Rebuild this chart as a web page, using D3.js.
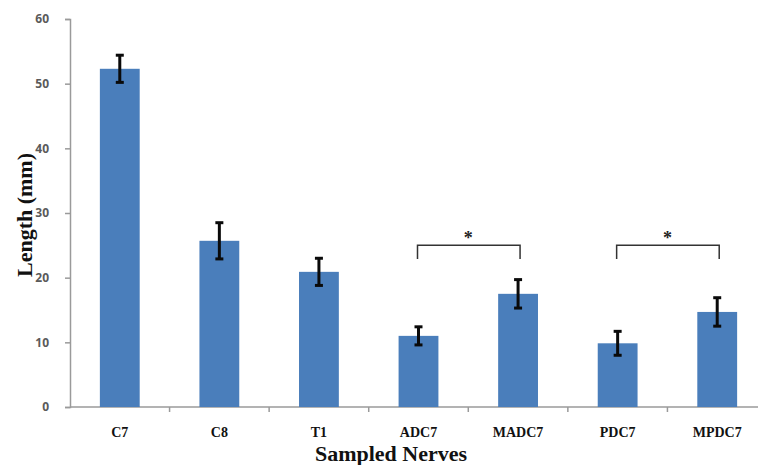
<!DOCTYPE html>
<html>
<head>
<meta charset="utf-8">
<script src="https://cdn.jsdelivr.net/npm/d3@7"></script>
<style>
  body { margin: 0; background: #fff; }
  svg { display: block; }
</style>
</head>
<body>
<div id="chart"></div>
<script>
// chart size, same as the window
const width = 758;
const height = 465;
const margin = {left: 70, right: -9, top: 19, bottom: 58};

// data
const nerves = ["C7", "C8", "T1", "ADC7", "MADC7", "PDC7", "MPDC7"];
const lengths = [52.3, 25.7, 20.9, 11.0, 17.5, 9.85, 14.7];
const errors = [2.1, 2.8, 2.1, 1.4, 2.2, 1.85, 2.2];
const yTicks = [0, 10, 20, 30, 40, 50, 60];

// significance brackets: [from, to, bar height, leg end]
const brackets = [
  {from: "ADC7", to: "MADC7", top: 25.0, end: 22.9},
  {from: "PDC7", to: "MPDC7", top: 25.0, end: 22.9}
];

const svg = d3.select("#chart")
  .append("svg")
  .attr("width", width)
  .attr("height", height);

let yScale = d3.scaleLinear()
  .domain([0, 60])
  .range([height - margin.bottom, margin.top]);

let xScale = d3.scaleBand()
  .domain(nerves)
  .range([margin.left, width - margin.right])
  .paddingInner(0.6)
  .paddingOuter(0.3);

// axes
const yAxis = svg.append("g")
  .attr("transform", `translate(${margin.left},0)`)
  .call(d3.axisLeft(yScale).tickValues(yTicks).tickSize(5).tickPadding(16));
yAxis.selectAll("path, line").attr("stroke", "#9a9a9a").attr("stroke-width", 1.5);
yAxis.selectAll("text")
  .attr("fill", "#5a5a5a")
  .attr("font-family", "'Open Sans', sans-serif")
  .attr("font-size", "12px")
  .attr("font-weight", "bold");

// x axis: ticks sit between categories
const step = xScale.step();
const xAxis = svg.append("g")
  .attr("transform", `translate(0,${yScale(0)})`);
xAxis.append("line")
  .attr("x1", margin.left).attr("x2", width)
  .attr("stroke", "#9a9a9a").attr("stroke-width", 1.5);
xAxis.selectAll(".sep")
  .data(nerves.slice(1))
  .enter()
  .append("line")
  .attr("class", "sep")
  .attr("x1", d => xScale(d) - step * 0.3)
  .attr("x2", d => xScale(d) - step * 0.3)
  .attr("y1", 0).attr("y2", 5)
  .attr("stroke", "#9a9a9a").attr("stroke-width", 1.5);

xAxis.selectAll(".cat")
  .data(nerves)
  .enter()
  .append("text")
  .attr("class", "cat")
  .attr("x", d => xScale(d) + xScale.bandwidth() / 2)
  .attr("y", 30)
  .attr("text-anchor", "middle")
  .attr("font-family", "'Liberation Serif', 'Times New Roman', serif")
  .attr("font-weight", "bold")
  .attr("font-size", "14px")
  .attr("fill", "#111")
  .text(d => d);

// bars
svg.selectAll(".bar")
  .data(nerves)
  .enter()
  .append("rect")
  .attr("class", "bar")
  .attr("x", d => xScale(d))
  .attr("y", (d, i) => yScale(lengths[i]))
  .attr("width", xScale.bandwidth())
  .attr("height", (d, i) => yScale(0) - yScale(lengths[i]))
  .attr("fill", "#4a7ebb");

// error bars
const err = svg.selectAll(".err")
  .data(nerves)
  .enter()
  .append("g")
  .attr("class", "err")
  .attr("stroke", "#0a0a0a")
  .attr("stroke-width", 3);
err.append("line")
  .attr("x1", d => xScale(d) + xScale.bandwidth() / 2)
  .attr("x2", d => xScale(d) + xScale.bandwidth() / 2)
  .attr("y1", (d, i) => yScale(lengths[i] + errors[i]))
  .attr("y2", (d, i) => yScale(lengths[i] - errors[i]));
err.append("line")
  .attr("x1", d => xScale(d) + xScale.bandwidth() / 2 - 4)
  .attr("x2", d => xScale(d) + xScale.bandwidth() / 2 + 4)
  .attr("y1", (d, i) => yScale(lengths[i] + errors[i]))
  .attr("y2", (d, i) => yScale(lengths[i] + errors[i]));
err.append("line")
  .attr("x1", d => xScale(d) + xScale.bandwidth() / 2 - 4)
  .attr("x2", d => xScale(d) + xScale.bandwidth() / 2 + 4)
  .attr("y1", (d, i) => yScale(lengths[i] - errors[i]))
  .attr("y2", (d, i) => yScale(lengths[i] - errors[i]));

// significance brackets
const mid = d => xScale(d) + xScale.bandwidth() / 2;
svg.selectAll(".bracket")
  .data(brackets)
  .enter()
  .append("path")
  .attr("class", "bracket")
  .attr("fill", "none")
  .attr("stroke", "#333")
  .attr("stroke-width", 1.5)
  .attr("d", b => `M${mid(b.from) - 1},${yScale(b.end)}V${yScale(b.top)}H${mid(b.to) + 2}V${yScale(b.end)}`);
svg.selectAll(".star")
  .data(brackets)
  .enter()
  .append("text")
  .attr("class", "star")
  .attr("x", b => (mid(b.from) + mid(b.to)) / 2)
  .attr("y", b => yScale(b.top) - 1)
  .attr("text-anchor", "middle")
  .attr("font-family", "'Liberation Serif', serif")
  .attr("font-weight", "bold")
  .attr("font-size", "18px")
  .attr("fill", "#222")
  .text("*");

// axis titles
svg.append("text")
  .attr("transform", `translate(32,${(yScale(0) + yScale(60)) / 2 + 2}) rotate(-90)`)
  .attr("text-anchor", "middle")
  .attr("font-family", "'Liberation Serif', 'Times New Roman', serif")
  .attr("font-weight", "bold")
  .attr("font-size", "22px")
  .attr("fill", "#111")
  .text("Length (mm)");

svg.append("text")
  .attr("x", 391)
  .attr("y", 461)
  .attr("text-anchor", "middle")
  .attr("font-family", "'Liberation Serif', 'Times New Roman', serif")
  .attr("font-weight", "bold")
  .attr("font-size", "22px")
  .attr("fill", "#111")
  .text("Sampled Nerves");
</script>
</body>
</html>
